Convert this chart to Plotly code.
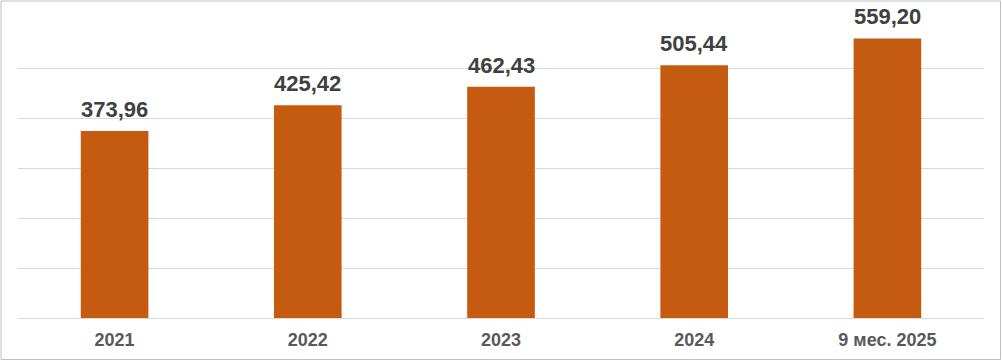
import plotly.graph_objects as go

categories = ["2021", "2022", "2023", "2024", "9 мес. 2025"]
values = [373.96, 425.42, 462.43, 505.44, 559.20]

labels = [f"{v:.2f}".replace(".", ",") for v in values]

W, H = 1002, 361
ml, mr, mt, mb = 18, 18, 18, 43
pw = W - ml - mr
ph = H - mt - mb

fig = go.Figure()
fig.add_trace(go.Bar(
    x=categories, y=values,
    marker=dict(color="#C55A11", line=dict(width=0)),
    hoverinfo="skip",
))

# category axis: annotations use the category index
for i, (v, t) in enumerate(zip(values, labels)):
    fig.add_annotation(
        x=i, y=v, text=f"<b>{t}</b>", showarrow=False,
        yanchor="bottom", yshift=7,
        font=dict(family="Liberation Sans, Arial, sans-serif", size=22, color="#404040"),
    )

# outer border
fig.add_shape(
    type="rect", xref="paper", yref="paper",
    x0=(1 - ml) / pw, x1=(1000.5 - ml) / pw,
    y0=(mt + ph - 359.5) / ph, y1=(mt + ph - 1) / ph,
    line=dict(color="#BFBFBF", width=1), fillcolor="rgba(0,0,0,0)", layer="below",
)

fig.update_layout(
    width=W, height=H,
    margin=dict(l=ml, r=mr, t=mt, b=mb),
    plot_bgcolor="white", paper_bgcolor="white",
    bargap=0.65,
    showlegend=False,
    font=dict(family="Liberation Sans, Arial, sans-serif"),
    xaxis=dict(
        type="category",
        range=[-0.5, len(categories) - 0.5],
        showgrid=False, zeroline=False, showline=False, ticks="",
        tickfont=dict(size=18, color="#595959", family="Liberation Sans, Arial, sans-serif", weight="bold"),
        ticklabelstandoff=9,
        fixedrange=True,
    ),
    yaxis=dict(
        range=[0, 600], dtick=100, showgrid=True, gridcolor="#D9D9D9", gridwidth=1,
        zeroline=True, zerolinecolor="#D9D9D9", zerolinewidth=1,
        showticklabels=False, ticks="", fixedrange=True,
    ),
)

fig.write_html(
    "out.html",
    config={"displayModeBar": False},
    post_script="document.body.style.margin='0';document.body.style.overflow='hidden';",
)
